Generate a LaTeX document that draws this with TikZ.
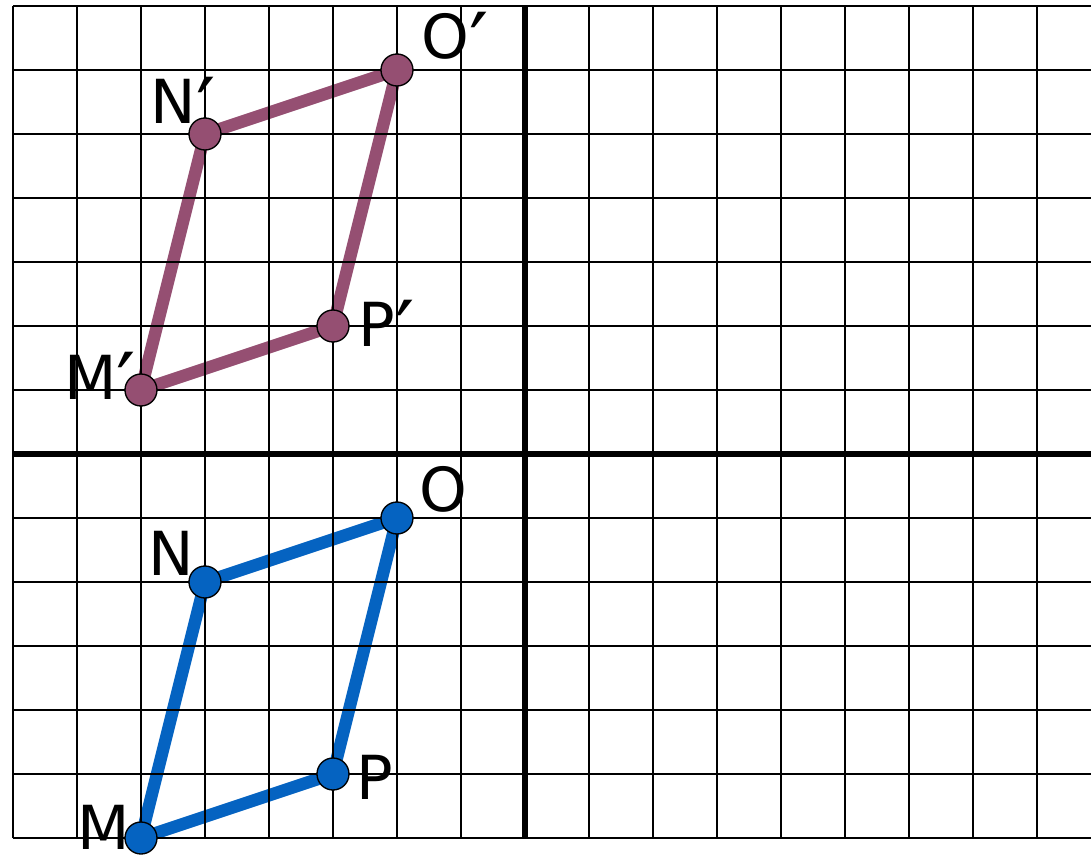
\documentclass[tikz,border=0pt]{standalone}
\usepackage{fontspec}
\setmainfont{DejaVu Sans}
\usetikzlibrary{positioning}
\usepackage{xcolor}
\definecolor{shapeblue}{HTML}{0563C1}
\definecolor{shapeplum}{HTML}{954F72}
\pgfdeclarelayer{background}
\pgfsetlayers{background,main}
\newcommand{\pr}{\raisebox{-7pt}{\fontsize{38}{38}\selectfont ′}}
\tikzstyle{dot} = [circle, draw=black, line width=0.6pt, inner sep=0pt, minimum size=0.5cm]
\tikzstyle{side} = [line width=5.5pt]
\tikzstyle{lbl} = [font=\fontsize{27}{30}\selectfont, inner sep=0pt]
\tikzstyle{gridline} = [line width=1pt]
\tikzstyle{axis} = [line width=2.6pt]

\begin{document}
\begin{tikzpicture}[on grid]
        \useasboundingbox (-8.203,-6.25) rectangle (8.844,7.094);
        % Grid and axes
        \draw [gridline] (-8,-6) grid (8.844,7);
        \draw [gridline] (-8,-6) -- (-8,7);
        \draw [axis] (-8,0) -- (8.844,0);
        \draw [axis] (0,-6) -- (0,7);

        % Image
        \node [dot, fill=shapeplum] (Mp) at (-6,1) {};
        \node [dot, fill=shapeplum] (Np) at (-5,5) {};
        \node [dot, fill=shapeplum] (Op) at (-2,6) {};
        \node [dot, fill=shapeplum] (Pp) at (-3,2) {};

        % Original
        \node [dot, fill=shapeblue] (M) at (-6,-6) {};
        \node [dot, fill=shapeblue] (N) at (-5,-2) {};
        \node [dot, fill=shapeblue] (O) at (-2,-1) {};
        \node [dot, fill=shapeblue] (P) at (-3,-5) {};

        % Sides
        \begin{pgfonlayer}{background}
        \draw [side, shapeplum] (Mp.center) -- (Np.center) -- (Op.center) -- (Pp.center) -- cycle;
        \draw [side, shapeblue] (M.center) -- (N.center) -- (O.center) -- (P.center) -- cycle;
        \end{pgfonlayer}

        % Labels
        \node [lbl, above right=0.42cm and 0.91cm of Op] (lOp) {O\pr};
        \node [lbl, above left=0.40cm and 0.34cm of Np] (lNp) {N\pr};
        \node [lbl, below right=0.08cm and 0.84cm of Pp] (lPp) {P\pr};
        \node [lbl, above left=0.10cm and 0.64cm of Mp] (lMp) {M\pr};
        \node [lbl, above right=0.45cm and 0.73cm of O] (lO) {O};
        \node [lbl, above left=0.45cm and 0.53cm of N] (lN) {N};
        \node [lbl, below right=0.05cm and 0.66cm of P] (lP) {P};
        \node [lbl, above left=0.16cm and 0.58cm of M] (lM) {M};
    \end{tikzpicture}
\end{document}
